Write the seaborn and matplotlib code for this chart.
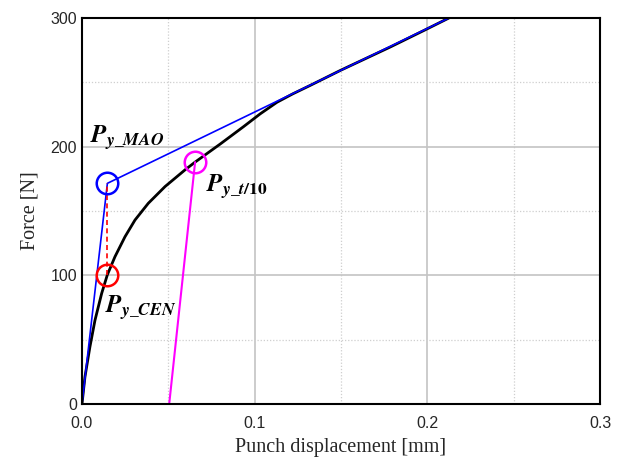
import numpy as np
import pandas as pd
import matplotlib
matplotlib.use("Agg")
import matplotlib.pyplot as plt
import seaborn as sns
from matplotlib.ticker import MultipleLocator

# Measured force-displacement curve (black)
disp = [0.0, 0.0017, 0.0046, 0.0075, 0.0114, 0.0147, 0.0191, 0.0249, 0.0307,
        0.0384, 0.0481, 0.0597, 0.0655, 0.080, 0.0935, 0.1032, 0.1129, 0.122,
        0.132, 0.150, 0.1786, 0.198, 0.2125]
force = [0, 21, 44.5, 65, 86, 100.5, 114.5, 130, 143, 156, 169, 182, 188, 202,
         215.5, 225.5, 234.5, 241, 247.5, 259.5, 277.5, 290.3, 300]

# Blue bilinear (MAO) construction
mao_x = [0.0, 0.0147, 0.2125]
mao_y = [0, 171.5, 300]
# Red dashed projection
cen_x = [0.0147, 0.0147]
cen_y = [100.5, 171.5]
# Magenta offset line (t/10)
off_x = [0.0505, 0.0655]
off_y = [0, 188]
# Circle markers
circ_x = [0.0147, 0.0147, 0.0655]
circ_y = [171.5, 100.5, 188]
circ_colors = ["#0000ff", "#ff0000", "#ff00ff"]

xticks = [0.0, 0.1, 0.2, 0.3]
xticklabels = ["0.0", "0.1", "0.2", "0.3"]
yticks = [0, 100, 200, 300]
yticklabels = ["0", "100", "200", "300"]

sns.set_style("white")
plt.rcParams["mathtext.fontset"] = "stix"

fig = plt.figure(figsize=(6.22, 4.59), dpi=100)
ax = fig.add_axes([82/622, 1-404/459, 518/622, 386/459])

ax.set_xlim(0, 0.3)
ax.set_ylim(0, 300)

# grid
ax.xaxis.set_minor_locator(MultipleLocator(0.05))
ax.yaxis.set_minor_locator(MultipleLocator(50))
ax.grid(which="major", color="#c4c4c4", linewidth=1.2, linestyle="-")
ax.grid(which="minor", color="#cfcfcf", linewidth=0.9, linestyle=(0, (1, 1.5)))
ax.set_axisbelow(True)

df = pd.DataFrame({"d": disp, "f": force})
sns.lineplot(data=df, x="d", y="f", color="black", linewidth=2.0, ax=ax,
             sort=False, estimator=None)
sns.lineplot(x=mao_x, y=mao_y, color="#0000ff", linewidth=1.2, ax=ax,
             sort=False, estimator=None)
sns.lineplot(x=off_x, y=off_y, color="#ff00ff", linewidth=1.5, ax=ax,
             sort=False, estimator=None)
ax.plot(cen_x, cen_y, color="#ff0000", linewidth=1.2, linestyle=(0, (3, 2)))
for cx, cy, cc in zip(circ_x, circ_y, circ_colors):
    ax.plot([cx], [cy], marker="o", markersize=15.5, markerfacecolor="none",
            markeredgecolor=cc, markeredgewidth=1.8, linestyle="none")

# labels
lab_kw = dict(fontsize=18, color="black", va="baseline", ha="left")
ax.text(0.0048, 203, r"$\mathbfit{P}_{\mathbfit{y\_MAO}}$", **lab_kw)
ax.text(0.0720, 165, r"$\mathbfit{P}_{\mathbfit{y\_t}\mathbf{/10}}$", **lab_kw)
ax.text(0.0133, 71, r"$\mathbfit{P}_{\mathbfit{y\_CEN}}$", **lab_kw)

ax.set_xticks(xticks)
ax.set_xticklabels(xticklabels)
ax.set_yticks(yticks)
ax.set_yticklabels(yticklabels)
ax.tick_params(which="both", length=0, labelsize=11.5)
ax.tick_params(axis="x", pad=8.5)
ax.tick_params(axis="y", pad=3.5)
for lbl in ax.get_xticklabels() + ax.get_yticklabels():
    lbl.set_fontfamily("Liberation Sans")

ax.set_xlabel("Punch displacement [mm]", fontfamily="Liberation Serif",
              fontsize=14.5, labelpad=5)
ax.set_ylabel("Force [N]", fontfamily="Liberation Serif", fontsize=14.5,
              labelpad=8)

for s in ax.spines.values():
    s.set_visible(True)
    s.set_color("black")
    s.set_linewidth(1.5)

fig.savefig("out.png", dpi=100)
